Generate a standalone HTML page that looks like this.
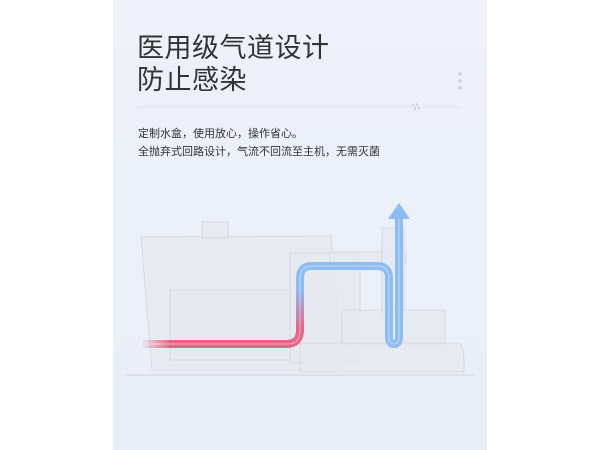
<!DOCTYPE html>
<html><head><meta charset="utf-8"><style>
body{margin:0;width:600px;height:450px;background:#fff;overflow:hidden;position:relative;font-family:"Liberation Sans","Noto Sans CJK SC",sans-serif}
.panel{position:absolute;left:113px;top:0;width:374px;height:450px;background:linear-gradient(#eef1f9,#e9eef8)}
.t{position:absolute;left:137px;font-size:27px;color:#333;letter-spacing:0.5px;line-height:32px}
.s{position:absolute;left:138px;font-size:11px;color:#333;line-height:14px}
</style></head><body>
<div class="panel"></div>
<div class="t" style="top:32px">医用级气道设计</div>
<div class="t" style="top:64px">防止感染</div>
<div class="s" style="top:127px">定制水盒，使用放心，操作省心。</div>
<div class="s" style="top:145px">全抛弃式回路设计，气流不回流至主机，无需灭菌</div>
<svg width="600" height="450" style="position:absolute;left:0;top:0">
<defs>
<linearGradient id="pv" x1="0" y1="345" x2="0" y2="290" gradientUnits="userSpaceOnUse"><stop offset="0.3" stop-color="#e8658a"/><stop offset="1" stop-color="#8cbcf2"/></linearGradient>
<linearGradient id="ph" x1="140" y1="0" x2="170" y2="0" gradientUnits="userSpaceOnUse"><stop offset="0" stop-color="#e8658a" stop-opacity="0"/><stop offset="1" stop-color="#e8658a"/></linearGradient>
</defs>
<line x1="138" y1="107" x2="410" y2="107" stroke="#e0e3ea" stroke-width="1"/>
<polyline points="410,107 413,104 415,110 417,103 419,109 421,107" fill="none" stroke="#c8ccd4" stroke-width="0.8"/>
<line x1="421" y1="107" x2="461" y2="107" stroke="#e0e3ea" stroke-width="1"/>
<circle cx="460" cy="74" r="1.6" fill="#c8ccd4"/><circle cx="460" cy="81" r="1.6" fill="#c8ccd4"/><circle cx="460" cy="88" r="1.6" fill="#c8ccd4"/>
<g fill="#e6e8ed" fill-opacity="0.8" stroke="#d2d5db" stroke-width="0.8">
<path d="M141,237 L331,236 L343,370 L152,370 Z"/>
<rect x="202" y="222" width="26" height="16"/>
<rect x="170" y="290" width="120" height="70"/>
<rect x="290" y="253" width="70" height="110"/>
<rect x="330" y="252" width="76" height="12"/>
<rect x="382" y="228" width="22" height="90"/>
<path d="M342,310 L445,310 L445,345 L342,345 Z"/>
<path d="M300,343 L458,343 Q464,345 464,360 L464,372 L300,372 Z"/>
</g>
<line x1="125" y1="375" x2="475" y2="375" stroke="#dde0e7" stroke-width="2"/>
<g fill="none" stroke-width="8">
<path d="M143,344 L288,344" stroke="url(#ph)"/>
<path d="M286,344 Q300,344 300,330 L300,290" stroke="url(#pv)"/>
<path d="M300,292 L300,278 Q300,266 312,266 L377,266 Q389,266 389,278 L389,337 Q389,344 394,344 Q399,344 399,337 L399,218" stroke="#8cbcf2"/>
</g>
<g fill="none" stroke="#ffffff" stroke-opacity="0.45" stroke-width="1">
<path d="M145,344 L288,344 Q300,344 300,330 L300,278 Q300,266 312,266 L377,266 Q389,266 389,278 L389,337 Q389,344 394,344 Q399,344 399,337 L399,218"/>
</g>
<polygon points="399,203 410,219 388,219" fill="#8cbcf2"/>
</svg>
</body></html>
